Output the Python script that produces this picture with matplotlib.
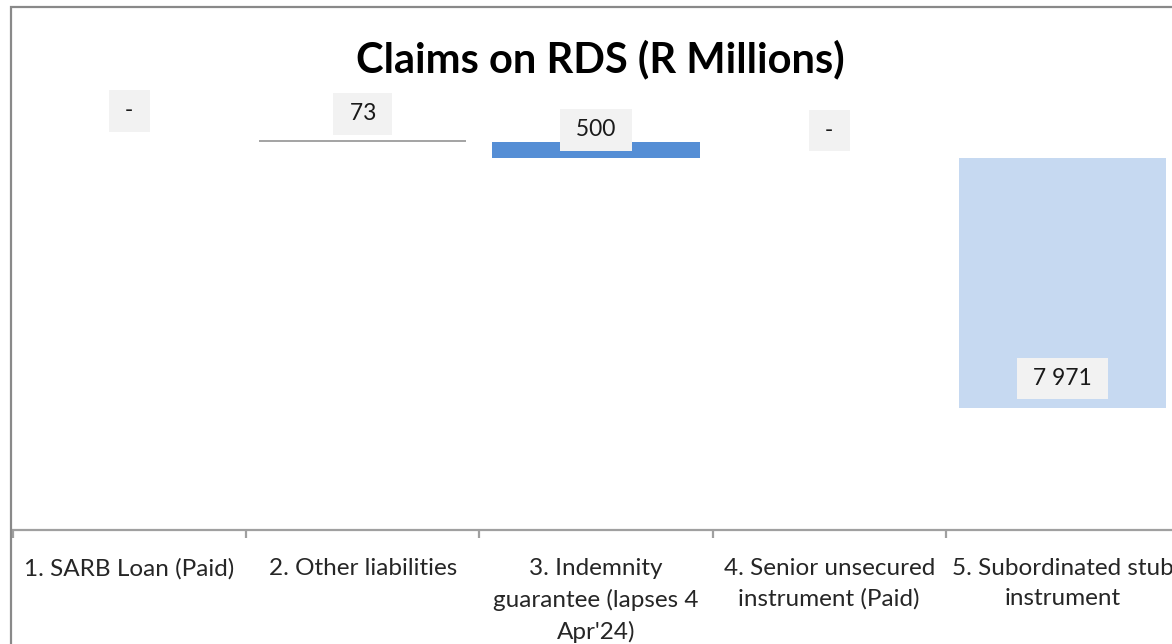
import numpy as np
import matplotlib
matplotlib.use('Agg')
import matplotlib.pyplot as plt
from matplotlib.patches import Rectangle

plt.rcParams['font.family'] = ['Lato', 'DejaVu Sans']

# data
categories = ['1. SARB Loan (Paid)', '2. Other liabilities',
              "3. Indemnity\nguarantee (lapses 4\nApr'24)",
              '4. Senior unsecured\ninstrument (Paid)',
              '5. Subordinated stub\ninstrument']
values = [0, 73, 500, 0, 7971]
bar_colors = ['#A5A5A5', '#A5A5A5', '#558ED5', '#A5A5A5', '#C6D9F1']
# label offset in pixels (negative = above bar top), last one measured from bar bottom
label_offsets = [-29, -26, -12, -27, -29]

bottoms = np.concatenate([[0], np.cumsum(values)[:-1]])
x = np.arange(len(values))

W, H = 1172, 644
fig = plt.figure(figsize=(W / 100, H / 100), dpi=100)

# chart frame (only top and left visible, rest cropped)
fig.patches.append(Rectangle((11 / W, -0.1), 1.2, (644 - 7) / H + 0.1,
                             transform=fig.transFigure, fill=False,
                             edgecolor='#898989', linewidth=1.6))

ax_left, ax_right = 12.7, 12.7 + 233.3 * 5
ax_top, ax_bot = 139.7, 530
ax = fig.add_axes([ax_left / W, 1 - ax_bot / H, (ax_right - ax_left) / W, (ax_bot - ax_top) / H])
ax.patch.set_alpha(0)

ax.bar(x, values, bottom=bottoms, width=0.89, color=bar_colors, linewidth=0)
ax.set_xlim(-0.5, 4.5)
ax.set_ylim(12450, 0)

for i, v in enumerate(values):
    txt = '-' if v == 0 else f'{v:,}'.replace(',', ' ')
    if i == len(values) - 1:
        ypos = bottoms[i] + v
    else:
        ypos = bottoms[i]
    ax.annotate(' ' + txt + ' ', (x[i], ypos), xytext=(0, -label_offsets[i]),
                textcoords='offset pixels', ha='center', va='center',
                fontsize=16.5, color='#1a1a1a', annotation_clip=False,
                bbox=dict(boxstyle='square,pad=0.45', facecolor='#F2F2F2', edgecolor='none'))

for s in ['top', 'right', 'left']:
    ax.spines[s].set_visible(False)
ax.spines['bottom'].set_color('#A0A0A0')
ax.spines['bottom'].set_linewidth(1.6)
ax.set_yticks([])
ax.set_xticks(np.arange(-0.5, 5, 1))
ax.set_xticklabels([])
ax.tick_params(axis='x', which='major', length=6, width=1.6, color='#A0A0A0', direction='out')
ax.set_xticks(x, minor=True)
ax.set_xticklabels(categories, minor=True, fontsize=17.5, color='#262626', linespacing=1.55)
ax.tick_params(axis='x', which='minor', length=0, pad=20)
for t in ax.get_xticklabels(minor=True):
    t.set_verticalalignment('top')

fig.text(600 / W, 1 - 72 / H, 'Claims on RDS (R Millions)', ha='center', va='baseline',
         fontsize=30, fontweight='bold', color='black')

fig.savefig('out.png', dpi=100)
